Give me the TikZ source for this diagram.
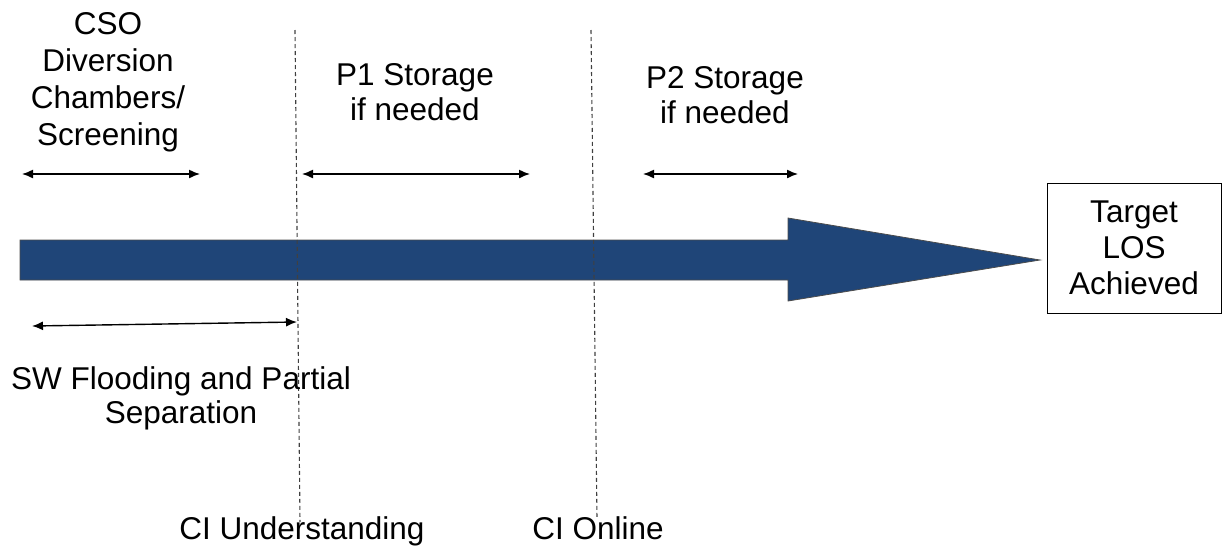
\documentclass[tikz,border=0pt]{standalone}
\usepackage{fontspec}
\setmainfont{Liberation Sans}
\usetikzlibrary{arrows.meta}
\definecolor{arrowblue}{HTML}{1F4578}
\begin{document}
\begin{tikzpicture}[x=1pt,y=-1pt,
  lbl/.style={align=center,inner sep=0pt,font=\fontsize{31.5}{36}\selectfont},
  span/.style={{Latex[length=11pt,width=9pt]}-{Latex[length=11pt,width=9pt]},line width=1.4pt,black},
  milestone/.style={dashed,dash pattern=on 4pt off 3pt,line width=1.1pt,black!75},
  target/.style={draw,line width=1pt,minimum width=174pt,minimum height=130pt,inner sep=0pt,align=center,font=\fontsize{31.5}{36}\selectfont}]
\useasboundingbox (0,0) rectangle (1222,547);
% big arrow
\draw[fill=arrowblue,draw=black!70,line width=0.8pt]
  (20,240) -- (788,240) -- (788,218) -- (1040,260) -- (788,301) -- (788,280) -- (20,280) -- cycle;
% milestone lines
\coordinate (m1t) at (295,30);
\coordinate (m1b) at (300,522);
\coordinate (m2t) at (591,30);
\coordinate (m2b) at (597,519);
\draw[milestone] (m1t) -- (m1b);
\draw[milestone] (m2t) -- (m2b);
% labels
\node[lbl,font=\fontsize{31.5}{37}\selectfont] (cso) at (108,82) {CSO\\Diversion\\Chambers/\\Screening};
\node[lbl,font=\fontsize{31.5}{35}\selectfont] (p1) at (415,92) {P1 Storage\\if needed};
\node[lbl,font=\fontsize{31.5}{35}\selectfont] (p2) at (725,95) {P2 Storage\\if needed};
\node[lbl,font=\fontsize{31.5}{34}\selectfont] (sw) at (181,398) {SW Flooding and Partial\\Separation};
\node[lbl,anchor=base] (ciu) at (302,539) {CI Understanding};
\node[lbl,anchor=base] (cio) at (598,539) {CI Online};
\node[target] (los) at (1134,248) {Target\\LOS\\Achieved};
% span arrows
\coordinate (a1l) at (22,174);
\coordinate (a1r) at (200,174);
\coordinate (a2l) at (302,174);
\coordinate (a2r) at (530,174);
\coordinate (a3l) at (643,174);
\coordinate (a3r) at (798,174);
\coordinate (a4l) at (32,326);
\coordinate (a4r) at (297,322);
\draw[span] (a1l) -- (a1r);
\draw[span] (a2l) -- (a2r);
\draw[span] (a3l) -- (a3r);
\draw[span] (a4l) -- (a4r);
\end{tikzpicture}
\end{document}
